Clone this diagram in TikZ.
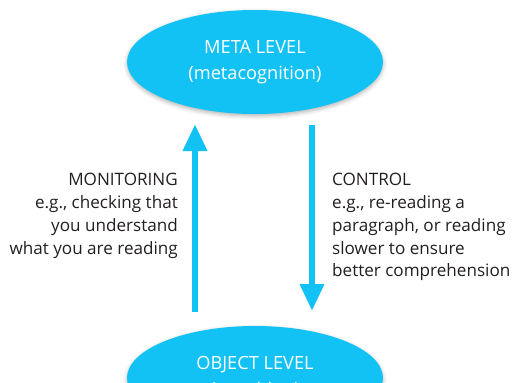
\documentclass[tikz,border=0pt]{standalone}
\usepackage{fontspec}
\setmainfont{Open Sans}
\usepackage{tikz}
\usetikzlibrary{shapes.geometric}
\usetikzlibrary{shadows.blur}
\usetikzlibrary{arrows.meta}
\definecolor{levelblue}{RGB}{18,194,245}
\definecolor{notegray}{RGB}{35,31,32}
\begin{document}
\begin{tikzpicture}[x=1pt,y=1pt,yscale=-1,xscale=1,
  level/.style={ellipse,fill=levelblue,minimum width=256pt,minimum height=104pt,inner sep=0pt,
    text=white,align=center,font=\fontsize{18.2}{26}\selectfont,
    blur shadow={shadow xshift=0pt,shadow yshift=-2pt,shadow blur radius=4pt,shadow opacity=30}},
  flow/.style={draw=levelblue,line width=6.5pt,-{Triangle[width=23pt,length=27pt]}},
  note/.style={text=notegray,inner sep=0pt,font=\fontsize{17.1}{22.8}\selectfont}]
\useasboundingbox (0,0) rectangle (512,383);
\begin{scope}
\clip (0,0) rectangle (512,383);
\node [level] (meta) at (255,62) {META LEVEL\\(metacognition)};
\node [level] (object) at (255,378) {OBJECT LEVEL\\(cognition)};
\end{scope}
\coordinate (monbot) at (195,312);
\coordinate (montop) at (195,124);
\coordinate (contop) at (312,125);
\coordinate (conbot) at (312,311);
\draw [flow] (monbot) -- (montop);
\draw [flow] (contop) -- (conbot);
\node [note,anchor=north east,align=right] (monitoring) at (178,173) {MONITORING\\e.g., checking that\\you understand\\what you are reading};
\node [note,anchor=north west,align=left] (control) at (332,173) {CONTROL\\e.g., re-reading a\\paragraph, or reading\\slower to ensure\\better comprehension};
\end{tikzpicture}
\end{document}
